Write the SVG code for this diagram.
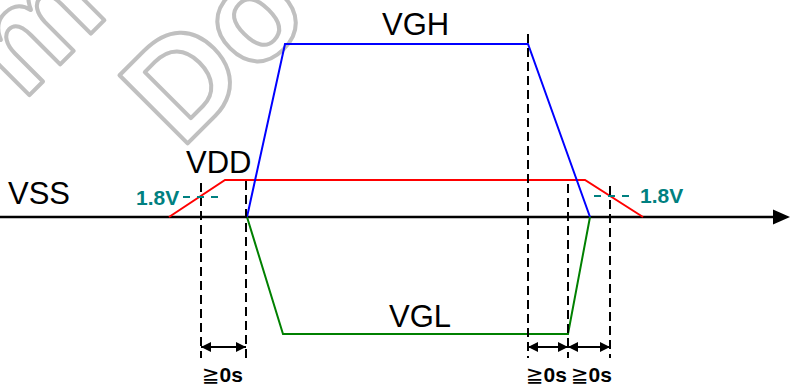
<svg xmlns="http://www.w3.org/2000/svg" width="810" height="387" viewBox="0 0 810 387">
<style>
.wm{font-family:"Liberation Sans",Arial,sans-serif;font-weight:bold;font-size:140px;fill:none;stroke:#c0c0c0;stroke-width:4;stroke-linejoin:round}
.lbl{font-family:"Liberation Sans",Arial,sans-serif;font-size:31px;fill:#000}
.v18{font-family:"Liberation Sans",Arial,sans-serif;font-size:21px;font-weight:bold;fill:#008080}
.ge{font-family:"Liberation Sans","DejaVu Sans",sans-serif;font-size:21px;font-weight:bold;fill:#000}
.ge .sym{font-family:"DejaVu Sans",sans-serif;font-size:21px;font-weight:normal}
.dash{stroke:#000;stroke-width:2;stroke-dasharray:9 5;fill:none}
.tdash{stroke:#008080;stroke-width:2;stroke-dasharray:7 7;fill:none}
.sig{fill:none;stroke-width:2;stroke-linejoin:miter}
.dim{stroke:#000;stroke-width:2;fill:none;marker-start:url(#ah);marker-end:url(#ah)}
</style>
<defs>
<marker id="ah" viewBox="0 0 10 10" refX="10" refY="5" markerWidth="11" markerHeight="10" markerUnits="userSpaceOnUse" orient="auto-start-reverse">
<path d="M0,0 L10,5 L0,10 z" fill="#000"/>
</marker>
</defs>
<g id="watermark" transform="translate(188,143) rotate(-45)">
<text class="wm" x="-10" y="0">Do</text>
<text class="wm" x="-88" y="-146">m</text>
</g>
<g id="connectors">
<line x1="0" y1="217" x2="775" y2="217" stroke="#000" stroke-width="2.5"/>
<path d="M773,209.5 L790,217 L773,224.5 z" fill="#000"/>
<polyline class="sig" stroke="#ff0000" points="169,217 225,180 585,180 643,217"/>
<polyline class="sig" stroke="#0000ff" points="247,217 285,44 528,44 590,217"/>
<polyline class="sig" stroke="#008000" points="247,217 283,334 568,334 590,217"/>
<line class="dash" x1="201" y1="183" x2="201" y2="358"/>
<line class="dash" x1="246" y1="181" x2="246" y2="358"/>
<line class="dash" x1="528" y1="34" x2="528" y2="358"/>
<line class="dash" x1="568" y1="184" x2="568" y2="358"/>
<line class="dash" x1="610" y1="186" x2="610" y2="358"/>
<line class="tdash" x1="183" y1="197" x2="220" y2="197"/>
<line class="tdash" x1="594" y1="196" x2="631" y2="196"/>
<line class="dim" x1="201" y1="347" x2="246" y2="347"/>
<line class="dim" x1="528" y1="347" x2="568" y2="347"/>
<line class="dim" x1="568" y1="347" x2="610" y2="347"/>
</g>
<g id="vss"><text class="lbl" x="8" y="204">VSS</text></g>
<g id="vdd"><text class="lbl" x="186" y="173">VDD</text></g>
<g id="vgh"><text class="lbl" x="382" y="35">VGH</text></g>
<g id="vgl"><text class="lbl" x="389" y="327">VGL</text></g>
<g id="v18l"><text class="v18" x="136" y="205">1.8V</text></g>
<g id="v18r"><text class="v18" x="640" y="203">1.8V</text></g>
<g id="t1"><text class="ge" x="202" y="382"><tspan class="sym">≧</tspan>0s</text></g>
<g id="t2"><text class="ge" x="526" y="382"><tspan class="sym">≧</tspan>0s</text></g>
<g id="t3"><text class="ge" x="571" y="382"><tspan class="sym">≧</tspan>0s</text></g>
</svg>
